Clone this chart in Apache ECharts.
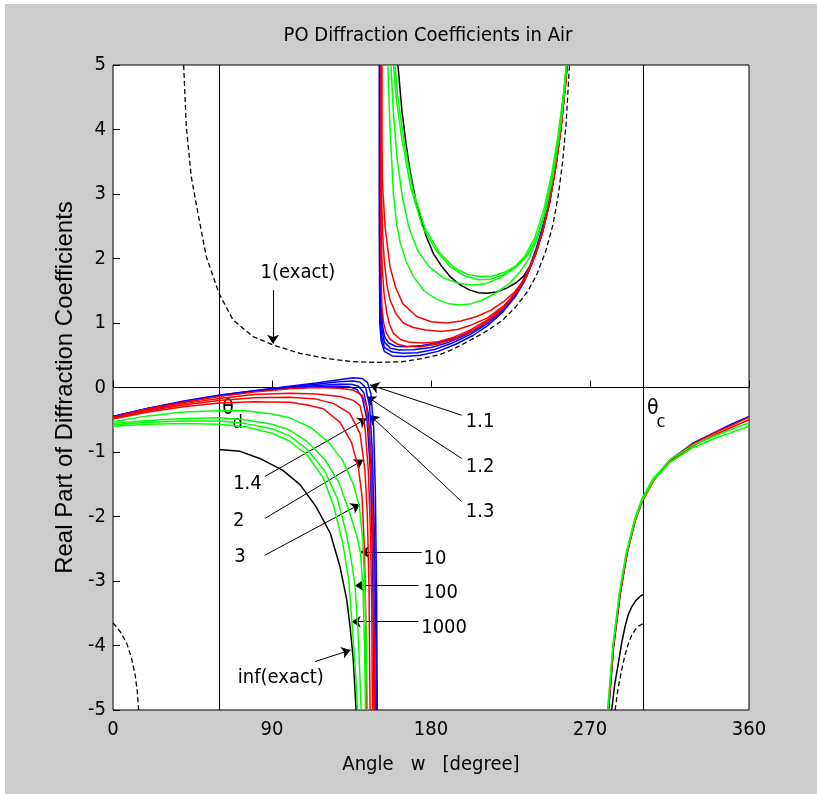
<!DOCTYPE html>
<html>
<head>
<meta charset="utf-8">
<script src="https://cdn.jsdelivr.net/npm/echarts@6/dist/echarts.min.js"></script>
<style>
html,body{margin:0;padding:0;background:#fff;}
#c{width:817px;height:794px;}
</style>
</head>
<body>
<div id="c"></div>
<script>
// ---------- axes ----------
const xTicks = [0, 90, 180, 270, 360];
const yTicks = [-5, -4, -3, -2, -1, 0, 1, 2, 3, 4, 5];
const refX = [60, 300];   // theta_d, theta_c
const refY = [0];

// ---------- lower-left branches (0 .. ~150 deg) ----------
const blueLL1 = [[0,-0.45],[20,-0.32],[40,-0.21],[60,-0.12],[80,-0.05],[100,0.02],[115,0.07],[128,0.12],[136,0.15],[141,0.14],[144,0.08],[146,-0.1],[147.5,-0.6],[148.5,-1.6],[149.2,-3.2],[149.6,-5]];
const blueLL2 = [[0,-0.45],[20,-0.32],[40,-0.22],[60,-0.12],[80,-0.05],[100,0.01],[115,0.05],[128,0.09],[136,0.1],[140,0.08],[143,0.0],[145.3,-0.3],[146.8,-1.0],[148,-2.3],[148.8,-3.8],[149.2,-5]];
const blueLL3 = [[0,-0.45],[20,-0.33],[40,-0.22],[60,-0.13],[80,-0.06],[100,0.0],[115,0.03],[128,0.05],[135,0.05],[139,0.02],[142,-0.08],[144.5,-0.4],[146.3,-1.2],[147.5,-2.6],[148.4,-5]];
const blueLL4 = [[0,-0.46],[20,-0.33],[40,-0.23],[60,-0.13],[80,-0.06],[100,-0.01],[115,0.01],[128,0.02],[134,0.01],[138,-0.03],[141,-0.15],[143.8,-0.5],[145.7,-1.3],[147,-2.8],[147.8,-5]];

const redLL1 = [[0,-0.46],[20,-0.33],[40,-0.23],[60,-0.14],[80,-0.07],[100,-0.02],[115,0.0],[128,-0.01],[136,-0.04],[141,-0.12],[143.5,-0.3],[145.3,-0.8],[146.5,-1.6],[147.3,-2.7],[147.8,-4],[148.1,-5]];
const redLL2 = [[0,-0.47],[20,-0.35],[40,-0.25],[60,-0.17],[80,-0.11],[100,-0.09],[115,-0.1],[128.5,-0.14],[136,-0.2],[139.8,-0.28],[142.6,-0.61],[144.5,-1.28],[145.7,-2.2],[146.4,-3.3],[146.9,-5]];
const redLL3 = [[0,-0.48],[20,-0.36],[40,-0.27],[60,-0.2],[80,-0.16],[100,-0.15],[115,-0.18],[125,-0.25],[134,-0.4],[139.8,-0.71],[142.6,-1.28],[144,-2.0],[144.9,-3.1],[145.5,-5]];
const redLL4 = [[0,-0.49],[20,-0.38],[40,-0.3],[60,-0.24],[80,-0.22],[100,-0.23],[110,-0.27],[119,-0.33],[128.5,-0.54],[135,-0.85],[139,-1.26],[141,-1.7],[142.3,-2.5],[143,-3.5],[143.5,-5]];

const greenLL1 = [[0,-0.53],[20,-0.44],[40,-0.38],[60,-0.36],[75,-0.36],[90,-0.41],[100,-0.47],[112,-0.62],[122,-0.85],[130,-1.13],[136,-1.5],[139.5,-1.85],[141.5,-2.4],[142.7,-3.2],[143.5,-4.1],[144,-5]];
const greenLL2 = [[0,-0.56],[20,-0.51],[40,-0.48],[60,-0.47],[75,-0.5],[90,-0.57],[100,-0.66],[110,-0.84],[120,-1.12],[128,-1.48],[134,-1.95],[138,-2.3],[140,-2.55],[141.5,-3.1],[142.4,-4],[142.9,-5]];
const greenLL3 = [[0,-0.58],[20,-0.54],[40,-0.52],[60,-0.52],[75,-0.56],[90,-0.64],[100,-0.75],[110,-0.96],[120,-1.3],[127,-1.72],[132,-2.25],[135,-2.7],[137,-3.07],[138.7,-3.8],[139.8,-4.5],[140.4,-5]];
const greenLL4 = [[0,-0.6],[20,-0.57],[40,-0.56],[60,-0.57],[75,-0.61],[90,-0.71],[100,-0.83],[110,-1.05],[119,-1.4],[125,-1.85],[130,-2.4],[133.5,-3.0],[135.2,-3.63],[137,-4.3],[138.5,-5]];

const infLL = [[60,-0.96],[72,-0.99],[83,-1.10],[96,-1.28],[106,-1.51],[115,-1.85],[123,-2.26],[128.5,-2.78],[132.3,-3.29],[134.2,-3.71],[136,-4.22],[137.6,-5]];
const oneLL = [[0,-3.65],[4,-3.78],[7.7,-3.96],[10.5,-4.2],[12.5,-4.45],[13.7,-4.7],[14.5,-5]];

// ---------- upper branches ----------
const blueU1 = [[151.6,5],[151.6,2.5],[151.9,1.3],[152.6,0.95],[153.8,0.78],[156,0.69],[160,0.64],[166,0.63],[175,0.65],[185,0.7],[195,0.78],[205,0.9],[215,1.08],[223,1.3],[229,1.5],[234,1.72],[239,2.05],[243,2.4],[247,2.85],[250.5,3.4],[253.5,4.0],[256,4.7],[256.9,5]];
const blueU2 = [[151.3,5],[151.3,2.5],[151.6,1.2],[152.3,0.88],[153.7,0.7],[157,0.61],[162,0.58],[170,0.585],[180,0.62],[190,0.7],[200,0.82],[210,0.98],[219,1.18],[226,1.4],[231,1.6],[235.5,1.85],[239.5,2.15],[243.5,2.5],[247.3,2.95],[250.7,3.5],[253.7,4.1],[256.1,4.75],[257,5]];
const blueU3 = [[151,5],[151,2.5],[151.3,1.1],[152,0.8],[153.6,0.62],[158,0.55],[164,0.53],[172,0.54],[182,0.59],[192,0.69],[202,0.82],[212,0.99],[220,1.18],[227,1.4],[232,1.62],[236.5,1.9],[240.5,2.22],[244.3,2.6],[247.8,3.05],[251,3.55],[253.8,4.12],[256.2,4.75],[257,5]];
const blueU4 = [[150.7,5],[150.7,2.5],[151,1.0],[151.8,0.72],[153.6,0.56],[158,0.49],[165,0.48],[174,0.5],[184,0.56],[194,0.67],[204,0.81],[213,0.98],[221,1.18],[228,1.42],[233,1.65],[237,1.92],[241,2.25],[244.8,2.65],[248.2,3.1],[251.3,3.62],[254,4.2],[256.3,4.8],[257,5]];

const redU1 = [[152.2,5],[152.2,3.8],[152.5,3.17],[154,2.49],[156.8,1.87],[160,1.55],[164,1.3],[171.9,1.1],[180,1.02],[188.9,1.0],[197,1.03],[205.9,1.1],[214,1.2],[221,1.33],[227,1.47],[232,1.65],[236,1.87],[240,2.15],[243.5,2.45],[247.3,2.9],[250.7,3.45],[253.6,4.05],[256.3,4.7],[257.2,5]];
const redU2 = [[152,5],[152,3],[152.6,2.4],[153.5,1.98],[155,1.6],[156.8,1.36],[160,1.15],[164.3,1.0],[170,0.93],[177,0.89],[186,0.87],[195,0.9],[202,0.96],[212,1.08],[221,1.26],[228,1.47],[234,1.72],[239,2.05],[243,2.4],[247,2.85],[250.5,3.4],[253.5,4.0],[256,4.7],[257,5]];
const redU3 = [[151.8,5],[151.8,2.5],[152.3,1.9],[153.4,1.46],[155,1.15],[156.5,0.98],[158.7,0.84],[163,0.74],[168,0.7],[176,0.69],[184,0.71],[192,0.77],[202,0.89],[212,1.05],[221,1.25],[228,1.47],[234,1.72],[239,2.05],[243,2.4],[247,2.85],[250.5,3.4],[253.5,4.0],[256,4.7],[257,5]];
const redU4 = [[151.6,5],[151.6,2],[152.2,1.25],[153.2,1.0],[154.5,0.86],[156.8,0.75],[161,0.67],[166,0.64],[174,0.63],[183,0.67],[192,0.74],[202,0.86],[212,1.02],[221,1.23],[228,1.46],[234,1.72],[239,2.05],[243,2.4],[247,2.85],[250.5,3.4],[253.5,4.0],[256,4.7],[257,5]];

const greenU1 = [[155.6,5],[156.8,4.04],[158.7,3.01],[160.5,2.55],[162.5,2.25],[166,1.95],[170,1.72],[176,1.5],[183,1.37],[190,1.3],[196.5,1.28],[203,1.3],[209.6,1.36],[217,1.47],[224.7,1.62],[230.5,1.8],[235.5,2.0],[240,2.3],[244.5,2.72],[248.7,3.28],[252.3,3.9],[255.2,4.55],[256.6,5]];
const greenU2 = [[157.4,5],[158.6,4.3],[160.8,3.55],[163.8,2.95],[167.5,2.48],[172.5,2.12],[179,1.87],[187,1.7],[195,1.62],[203,1.59],[211,1.61],[219,1.7],[226.5,1.84],[233,2.03],[238.7,2.32],[243.8,2.75],[248.2,3.3],[252,3.92],[255,4.55],[256.6,5]];
const greenU3 = [[158.8,5],[160.3,4.5],[163.5,3.85],[168.5,3.1],[175,2.5],[183,2.12],[191,1.87],[199,1.73],[207,1.67],[214,1.68],[221,1.75],[228,1.86],[234,2.03],[239.5,2.3],[244.5,2.72],[248.5,3.25],[252.3,3.9],[255.2,4.55],[256.7,5]];
const greenU4 = [[159.6,5],[161,4.55],[164.5,3.85],[169.8,3.05],[176.5,2.48],[184.5,2.1],[193,1.86],[201,1.75],[208,1.72],[215,1.73],[222,1.79],[229,1.9],[235,2.07],[240.2,2.33],[245,2.75],[249,3.28],[252.6,3.9],[255.4,4.55],[256.8,5]];

const infU = [[161.3,5],[163.5,4.3],[166,3.75],[168.1,3.37],[171,2.95],[173.8,2.65],[177.5,2.33],[181.3,2.08],[186,1.88],[190.8,1.72],[196,1.6],[202,1.51],[207,1.47],[211.5,1.46],[217,1.48],[222.8,1.54],[228,1.62],[232.2,1.72],[236.5,1.9],[240.5,2.17],[244.5,2.6],[248.3,3.15],[251.8,3.8],[254.7,4.45],[256.8,5]];
const oneU = [[40,5],[41.5,4.04],[44.3,3.27],[48.1,2.7],[52.8,2.03],[60,1.46],[67.9,1.05],[79.2,0.79],[90.6,0.66],[105.7,0.53],[120.8,0.45],[135.8,0.40],[150,0.39],[164,0.40],[175,0.45],[185,0.51],[193,0.6],[200,0.70],[210,0.85],[220,1.03],[228,1.25],[235,1.5],[240,1.76],[245,2.12],[249,2.52],[252,2.97],[254.5,3.5],[256.5,4.1],[258.4,5]];

// ---------- lower-right branches (~280 .. 360 deg) ----------
const blueLR = [[280.6,-5],[283.4,-4.02],[287.2,-3.19],[291,-2.57],[295.7,-2.05],[299.8,-1.74],[306,-1.43],[315.5,-1.12],[328.5,-0.86],[341.7,-0.68],[350,-0.57],[360,-0.45]];
const redLR1 = [[280.4,-5],[283.2,-4.02],[287,-3.19],[290.8,-2.57],[295.5,-2.05],[299.6,-1.74],[305.8,-1.43],[315.3,-1.12],[328.5,-0.87],[341.7,-0.69],[350,-0.59],[360,-0.46]];
const redLR2 = [[280.5,-5],[283.3,-4.02],[287.1,-3.19],[290.9,-2.58],[295.6,-2.07],[299.7,-1.76],[305.9,-1.45],[315.4,-1.14],[328.5,-0.9],[341.7,-0.72],[350,-0.62],[360,-0.5]];
const greenLR1 = [[280,-5],[282.9,-4.02],[286.6,-3.19],[290.4,-2.57],[295.2,-2.05],[299.4,-1.72],[305.8,-1.41],[315.3,-1.12],[328.5,-0.89],[341.7,-0.74],[350,-0.65],[360,-0.55]];
const greenLR2 = [[280.1,-5],[283,-4.02],[286.7,-3.2],[290.5,-2.59],[295.3,-2.07],[299.5,-1.75],[305.8,-1.44],[315.3,-1.16],[328.5,-0.93],[341.7,-0.78],[350,-0.7],[360,-0.6]];
const infLR = [[282.3,-5],[284,-4.6],[286,-4.28],[288,-3.95],[289.8,-3.71],[291.7,-3.52],[293.6,-3.4],[296,-3.3],[298.3,-3.24],[300,-3.21]];
const oneLR = [[284.2,-5],[286,-4.65],[287.9,-4.38],[289.8,-4.15],[291.7,-3.97],[293.6,-3.84],[295.5,-3.76],[297.5,-3.70],[300,-3.66]];

// ---------- annotations ----------
const annoText = ['1(exact)', '1.1', '1.2', '1.3', '1.4', '2', '3', '10', '100', '1000', 'inf(exact)'];
const annoX    = [104.7, 207.8, 207.8, 207.8, 76.1, 71.1, 71.9, 182.3, 185.5, 187.4, 95.0];
const annoY    = [1.78, -0.53, -1.23, -1.93, -1.50, -2.07, -2.63, -2.65, -3.18, -3.72, -4.50];
const arrowFrom = [[90.6,1.51],[197.4,-0.43],[197.4,-1.10],[197.4,-1.77],[86.0,-1.38],[86.0,-2.03],[86.0,-2.60],[174.7,-2.55],[172.9,-3.07],[172.9,-3.63],[114.3,-4.25]];
const arrowTo   = [[90.6,0.68],[145.5,0.04],[143.6,-0.14],[145.5,-0.43],[143.6,-0.48],[141.7,-1.12],[139.8,-1.81],[139.8,-2.55],[137.0,-3.07],[135.1,-3.63],[134.5,-4.07]];
const thetaText = ['θ', 'd', 'θ', 'c'];
const thetaX    = [65.1, 70.5, 305.6, 310.2];
const thetaY    = [-0.33, -0.55, -0.32, -0.54];
const thetaSize = [21, 18, 21, 18];

// ---------- styling ----------
const NARROW = "'DejaVu Sans Condensed','Liberation Sans',sans-serif";
const REGULAR = "'Liberation Sans',Arial,sans-serif";
const BLUE = '#0000ff', RED = '#ff0000', GREEN = '#00ff00', BLACK = '#000000';
const CLEAR = 'rgba(0,0,0,0)';

function curve(data, color, dashed) {
  return {
    type: 'line', data: data, symbol: 'none', showSymbol: false, silent: true,
    animation: false, clip: true,
    lineStyle: { color: color, width: dashed ? 1.3 : 1.5, type: dashed ? [5, 3] : 'solid' }
  };
}

const series = [];
// reference lines
const refCoords = [];
refX.forEach(x => refCoords.push({ coords: [[x, yTicks[0]], [x, yTicks[yTicks.length - 1]]] }));
refY.forEach(y => refCoords.push({ coords: [[xTicks[0], y], [xTicks[xTicks.length - 1], y]] }));
series.push({
  type: 'lines', coordinateSystem: 'cartesian2d', silent: true, animation: false,
  symbol: 'none', lineStyle: { color: '#000', width: 1, opacity: 1 }, data: refCoords
});
// black curves
[oneLL, oneU, oneLR].forEach(d => series.push(curve(d, BLACK, true)));
[infLL, infU, infLR].forEach(d => series.push(curve(d, BLACK, false)));
// blue
[blueLL1, blueLL2, blueLL3, blueLL4, blueU1, blueU2, blueU3, blueU4, blueLR].forEach(d => series.push(curve(d, BLUE)));
// red
[redLL1, redLL2, redLL3, redLL4, redU1, redU2, redU3, redU4, redLR1, redLR2].forEach(d => series.push(curve(d, RED)));
// green
[greenLL1, greenLL2, greenLL3, greenLL4, greenU1, greenU2, greenU3, greenU4, greenLR1, greenLR2].forEach(d => series.push(curve(d, GREEN)));

// arrows
series.push({
  type: 'lines', coordinateSystem: 'cartesian2d', silent: true, animation: false,
  symbol: ['none', 'arrow'], symbolSize: 9,
  lineStyle: { color: '#000', width: 1, opacity: 1 },
  data: arrowFrom.map((f, i) => ({ coords: [f, arrowTo[i]] }))
});
// text annotations
series.push({
  type: 'scatter', silent: true, animation: false, symbolSize: 1,
  itemStyle: { color: CLEAR, opacity: 1 },
  data: annoText.map((t, i) => [annoX[i], annoY[i], t]),
  label: { show: true, position: 'inside', formatter: p => p.data[2], opacity: 1,
           color: '#000000', textBorderWidth: 0, fontSize: 20, fontFamily: NARROW }
});
series.push({
  type: 'scatter', silent: true, animation: false, symbolSize: 1,
  itemStyle: { color: CLEAR, opacity: 1 },
  data: thetaText.map((t, i) => ({ value: [thetaX[i], thetaY[i], t],
        label: { fontSize: thetaSize[i] } })),
  label: { show: true, position: 'inside', formatter: p => p.data.value[2], opacity: 1,
           color: '#000000', textBorderWidth: 0, fontFamily: NARROW }
});

const chart = echarts.init(document.getElementById('c'), null, { renderer: 'canvas' });
chart.setOption({
  animation: false,
  backgroundColor: '#cccccc',
  graphic: [
    { type: 'rect', shape: { x: 0, y: 0, width: 817, height: 4 }, style: { fill: '#ffffff' }, silent: true },
    { type: 'rect', shape: { x: 0, y: 0, width: 5, height: 794 }, style: { fill: '#ffffff' }, silent: true }
  ],
  title: {
    text: 'PO Diffraction Coefficients in Air',
    left: 428, top: 26, textAlign: 'center', padding: 0,
    textStyle: { fontSize: 20, fontWeight: 'normal', fontFamily: NARROW, color: '#000' }
  },
  grid: { left: 113, right: 68, top: 65, bottom: 84, show: true,
          backgroundColor: '#ffffff', borderColor: '#000', borderWidth: 1 },
  xAxis: {
    type: 'value', min: xTicks[0], max: xTicks[xTicks.length - 1], interval: 90,
    axisLine: { show: false },
    axisTick: { show: true, inside: true, length: 7, lineStyle: { color: '#000' } },
    splitLine: { show: false },
    axisLabel: { color: '#000', fontSize: 20, fontFamily: NARROW, margin: 10 },
    name: 'Angle   w   [degree]', nameLocation: 'middle', nameGap: 45,
    nameTextStyle: { color: '#000', fontSize: 20, fontFamily: NARROW }
  },
  yAxis: {
    type: 'value', min: yTicks[0], max: yTicks[yTicks.length - 1], interval: 1,
    axisLine: { show: false },
    axisTick: { show: true, inside: true, length: 7, lineStyle: { color: '#000' } },
    splitLine: { show: false },
    axisLabel: { color: '#000', fontSize: 20, fontFamily: NARROW, margin: 7 },
    name: 'Real Part of Diffraction Coefficients', nameLocation: 'middle', nameRotate: 90, nameGap: 16,
    nameTextStyle: { color: '#000', fontSize: 24, fontFamily: REGULAR }
  },
  series: series
});
</script>
</body>
</html>
